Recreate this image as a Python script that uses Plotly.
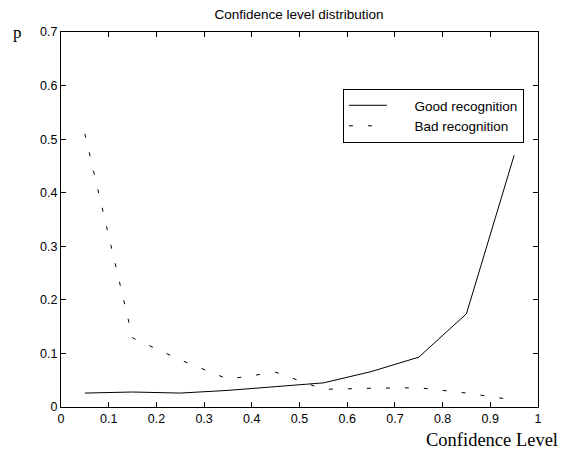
import plotly.graph_objects as go

x = [0.05, 0.15, 0.25, 0.35, 0.45, 0.55, 0.65, 0.75, 0.85, 0.95]
good = [0.026, 0.028, 0.026, 0.031, 0.038, 0.045, 0.066, 0.093, 0.174, 0.47]
bad = [0.51, 0.129, 0.088, 0.052, 0.065, 0.033, 0.035, 0.036, 0.026, 0.013]

xticks = [0, 0.1, 0.2, 0.3, 0.4, 0.5, 0.6, 0.7, 0.8, 0.9, 1]
xticklabels = ["0", "0.1", "0.2", "0.3", "0.4", "0.5", "0.6", "0.7", "0.8", "0.9", "1"]
yticks = [0, 0.1, 0.2, 0.3, 0.4, 0.5, 0.6, 0.7]
yticklabels = ["0", "0.1", "0.2", "0.3", "0.4", "0.5", "0.6", "0.7"]

pad = "\u00a0" * 6

fig = go.Figure()
fig.add_trace(go.Scatter(x=x, y=good, mode="lines", name=pad + "Good recognition",
                         line=dict(color="black", width=1)))
fig.add_trace(go.Scatter(x=x, y=bad, mode="lines", name=pad + "Bad recognition",
                         line=dict(color="black", width=1, dash="4px,15px")))

axis_common = dict(showline=True, linecolor="black", linewidth=1, mirror="ticks",
                   ticks="inside", ticklen=5, tickcolor="black", showgrid=False,
                   zeroline=False, tickfont=dict(family="Liberation Sans, Arial", size=12.5, color="black"))

fig.update_xaxes(range=[0, 1], tickvals=xticks, ticktext=xticklabels, **axis_common)
fig.update_yaxes(range=[0, 0.7], tickvals=yticks, ticktext=yticklabels, **axis_common)

fig.update_layout(
    width=571, height=450,
    margin=dict(l=61, r=33, t=32, b=43),
    paper_bgcolor="white", plot_bgcolor="white",
    title=dict(text="Confidence level distribution", x=299 / 571, xanchor="center",
               y=1 - 14 / 450, yanchor="middle",
               font=dict(family="Liberation Sans, Arial", size=13.5, color="black")),
    showlegend=True,
    legend=dict(x=0.591, y=0.848, xanchor="left", yanchor="top",
                bgcolor="white", bordercolor="black", borderwidth=1,
                font=dict(family="Liberation Sans, Arial", size=13.5, color="black"),
                itemwidth=38, tracegroupgap=0),
    annotations=[
        dict(text="p", xref="paper", yref="paper", x=-0.104, y=1.0, xanchor="left",
             yanchor="middle", showarrow=False,
             font=dict(family="Liberation Serif, Times New Roman", size=17, color="black")),
        dict(text="Confidence Level", xref="paper", yref="paper", x=1.046, y=-0.088,
             xanchor="right", yanchor="middle", showarrow=False,
             font=dict(family="Liberation Serif, Times New Roman", size=18.5, color="black")),
    ],
)

fig.write_html("out.html", config={"displayModeBar": False},
               post_script="document.body.style.margin='0';")
